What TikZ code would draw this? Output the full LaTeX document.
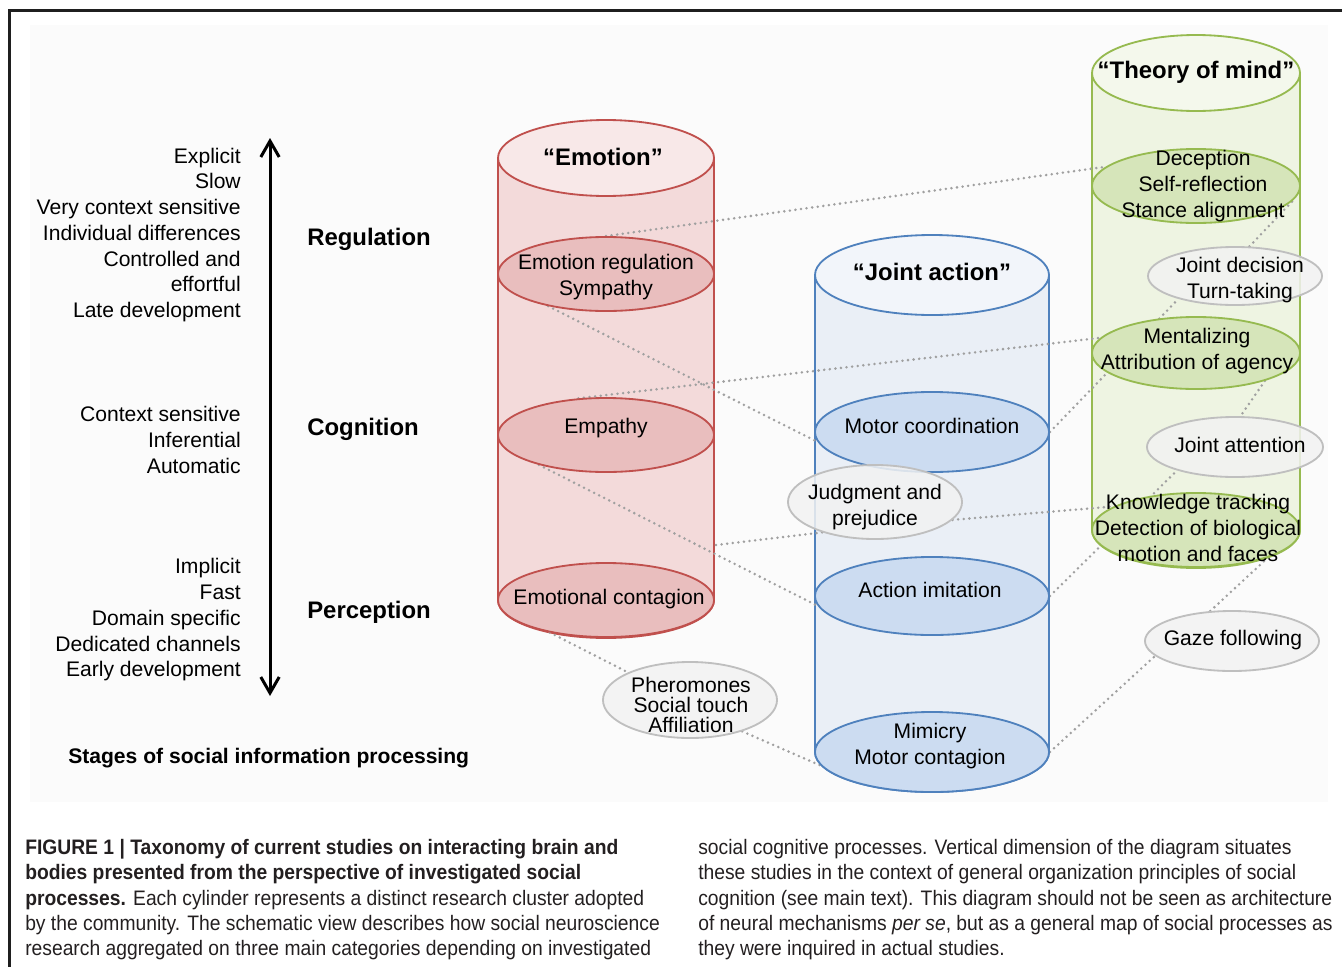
\documentclass[tikz,border=0pt]{standalone}
\usepackage{fontspec}
\setmainfont{Liberation Sans}
\newfontfamily\capfont[FakeStretch=0.92]{Liberation Sans}
\usetikzlibrary{shapes.geometric,arrows.meta}

\definecolor{emoline}{RGB}{192,80,77}
\definecolor{emobody}{RGB}{243,218,218}
\definecolor{emotop}{RGB}{248,232,232}
\definecolor{emoin}{RGB}{233,190,190}
\definecolor{jointline}{RGB}{79,129,189}
\definecolor{jointbody}{RGB}{234,239,246}
\definecolor{jointtop}{RGB}{242,245,250}
\definecolor{jointin}{RGB}{204,220,241}
\definecolor{tomline}{RGB}{150,186,80}
\definecolor{tombody}{RGB}{238,244,226}
\definecolor{tomtop}{RGB}{244,248,236}
\definecolor{tomin}{RGB}{214,229,186}
\definecolor{greyline}{RGB}{191,191,191}
\definecolor{greyin}{RGB}{242,242,242}
\definecolor{linkcol}{RGB}{160,160,160}
\definecolor{capcol}{RGB}{35,31,32}

\pgfdeclarelayer{panel}
\pgfdeclarelayer{back}
\pgfdeclarelayer{links}
\pgfsetlayers{panel,back,links,main}

\tikzset{
  trait/.style={anchor=east, align=right, inner sep=0pt, font=\fontsize{15}{18.3}\selectfont},
  stage/.style={anchor=west, inner sep=0pt, font=\bfseries\fontsize{17}{20}\selectfont},
  title/.style={inner sep=0pt, font=\bfseries\fontsize{17}{20}\selectfont},
  item/.style={align=center, inner sep=0pt, font=\fontsize{15}{18.3}\selectfont},
  blob/.style n args={3}{ellipse, draw=#1line, fill=#1in, line width=1.3pt, inner sep=0pt,
    minimum width=#2*0.05cm, minimum height=#3*0.05cm},
  link/.style={draw=linkcol, line width=2pt, line cap=round, dash pattern=on 0pt off 4pt},
  caption/.style={anchor=north west, align=left, inner sep=0pt, text=capcol,
    font=\capfont\fontsize{14.9}{18}\selectfont},
}

\begin{document}
\begin{tikzpicture}[x=0.025cm, y=-0.025cm]
\useasboundingbox (0,0) rectangle (1342,967);
% frame
\begin{pgfonlayer}{panel}
\fill[black!1.5] (30,25) rectangle (1328,802);
\draw[line width=0.075cm, black!88] (9.5,967) -- (9.5,10) -- (1342,10);
\end{pgfonlayer}

% stages of processing
\coordinate (up) at (270,138);
\coordinate (down) at (270,696);
\draw[{Straight Barb[length=4mm,width=4.6mm]}-{Straight Barb[length=4mm,width=4.6mm]},
  line width=0.075cm] (up) -- (down);
\node[trait] (late) at (241,235) {Explicit\\Slow\\Very context sensitive\\Individual differences\\Controlled and\\effortful\\Late development};
\node[trait] (infer) at (241,440) {Context sensitive\\Inferential\\Automatic};
\node[trait] (early) at (241,620) {Implicit\\Fast\\Domain specific\\Dedicated channels\\Early development};
\node[stage] (reg) at (307,239) {Regulation};
\node[stage] (cog) at (307,429) {Cognition};
\node[stage] (perc) at (307,612) {Perception};
\node[anchor=west, inner sep=0pt, font=\bfseries\fontsize{15}{18}\selectfont] (stages) at (68,758)
  {Stages of social information processing};

% cylinders
\begin{pgfonlayer}{back}
\foreach \cyl/\cx/\rx/\ry/\ytop/\ybot in {emo/606/108/38/158/600, joint/932/117/40/275/752, tom/1196/104/38/73/530} {
  \filldraw[draw=\cyl line, fill=\cyl body, line width=1.3pt]
    (\cx-\rx,\ytop) -- (\cx-\rx,\ybot)
    arc[start angle=180, end angle=360, x radius=\rx*0.025cm, y radius=\ry*0.025cm]
    -- (\cx+\rx,\ytop);
  \filldraw[draw=\cyl line, fill=\cyl top, line width=1.3pt]
    (\cx,\ytop) ellipse[x radius=\rx*0.025cm, y radius=\ry*0.025cm];
}
\end{pgfonlayer}
\node[title] (emotitle) at (603,157) {“Emotion”};
\node[title] (jointtitle) at (932,272) {“Joint action”};
\node[title] (tomtitle) at (1196,72) {“Theory of mind”};

% emotion
\node[blob={emo}{108}{37}] (emoreg) at (606,274) {};
\node[blob={emo}{108}{37}] (empathy) at (606,435) {};
\node[blob={emo}{108}{37}] (emocont) at (606,600) {};
\node[item] (emoregtxt) at (606,277) {Emotion regulation\\Sympathy};
\node[item] (empathytxt) at (606,428) {Empathy};
\node[item] (emoconttxt) at (609,599) {Emotional contagion};
\coordinate (emoside) at (716,545);

% joint action
\node[blob={joint}{117}{40}] (motorc) at (932,432) {};
\node[blob={joint}{117}{39}] (actim) at (932,596) {};
\node[blob={joint}{117}{40}] (mimic) at (932,752) {};
\node[item] (motorctxt) at (932,426) {Motor coordination};
\node[item] (actimtxt) at (930,590) {Action imitation};
\node[item] (mimictxt) at (930,746) {Mimicry\\Motor contagion};

% theory of mind
\node[blob={tom}{104}{37}] (decep) at (1196,186) {};
\node[blob={tom}{104}{36}] (mental) at (1196,353) {};
\node[blob={tom}{104}{37}] (know) at (1196,530) {};
\node[item] (deceptxt) at (1203,186) {Deception\\Self-reflection\\Stance alignment};
\node[item] (mentaltxt) at (1197,351) {Mentalizing\\Attribution of agency};
\node[item] (knowtxt) at (1198,528) {Knowledge tracking\\Detection of biological\\motion and faces};

% shared processes
\node[blob={grey}{87}{29}, fill opacity=0.85] (jdec) at (1235,276) {};
\node[blob={grey}{88}{30}, fill opacity=0.85] (jatt) at (1235,447) {};
\node[blob={grey}{87}{30}, fill opacity=0.85] (gaze) at (1232,641) {};
\node[blob={grey}{87}{37}, fill opacity=0.85] (judg) at (875,502) {};
\node[blob={grey}{87}{38}, fill opacity=0.85] (phero) at (690,700) {};
\node[item] (jdectxt) at (1240,280) {Joint decision\\Turn-taking};
\node[item] (jatttxt) at (1240,445) {Joint attention};
\node[item] (gazetxt) at (1233,640) {Gaze following};
\node[item] (judgtxt) at (875,507) {Judgment and\\prejudice};
\node[item, font=\fontsize{15}{14.5}\selectfont] (pherotxt) at (691,705) {Pheromones\\Social touch\\Affiliation};

\begin{pgfonlayer}{links}
\foreach \a/\b in {emoreg.north/decep.168, emoreg.209/motorc.185, empathy.127/mental.171,
    empathy.204/actim.185, emoside/judg.210, judg.-13/know.164, emocont.210/phero.156,
    phero.-31/mimic.187, mimic.east/gaze.191, gaze.126/know.-21, actim.east/jatt.202,
    mental.-22/jatt.80, motorc.east/jdec.202, jdec.64/decep.-8}
  \draw[link] (\a) -- (\b);
\end{pgfonlayer}

% caption
\node[caption] (capleft) at (25,839) {\textbf{FIGURE 1 | Taxonomy of current studies on interacting brain and}\\
  \textbf{bodies presented from the perspective of investigated social}\\
  \textbf{processes.} Each cylinder represents a distinct research cluster adopted\\
  by the community. The schematic view describes how social neuroscience\\
  research aggregated on three main categories depending on investigated};
\node[caption] (capright) at (698,839) {social cognitive processes. Vertical dimension of the diagram situates\\
  these studies in the context of general organization principles of social\\
  cognition (see main text). This diagram should not be seen as architecture\\
  of neural mechanisms \textit{per se}, but as a general map of social processes as\\
  they were inquired in actual studies.};
\end{tikzpicture}
\end{document}
